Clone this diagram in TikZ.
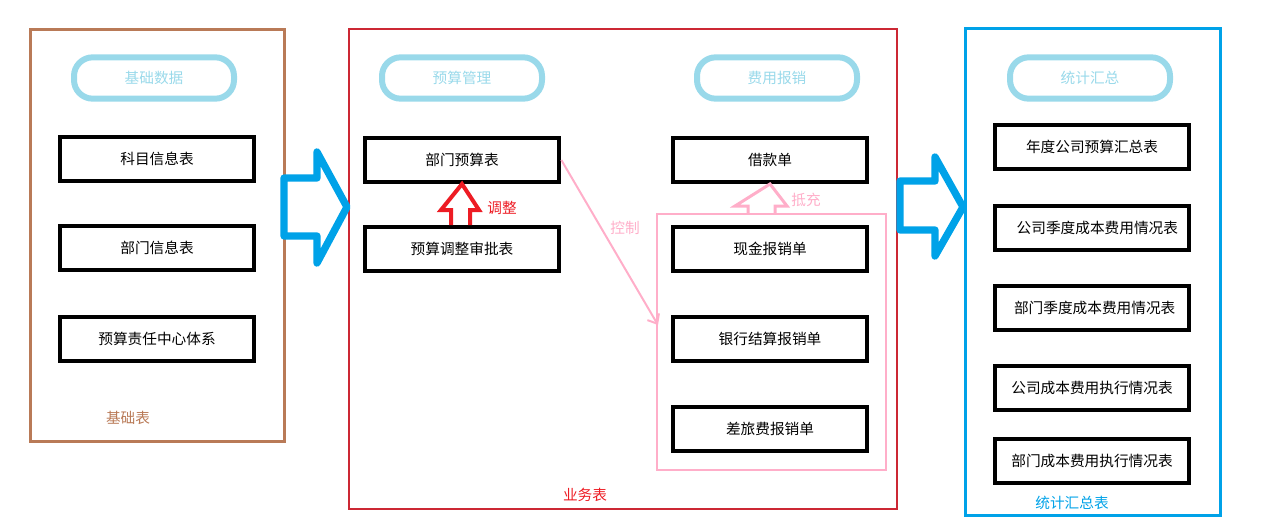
\documentclass[tikz,border=0pt]{standalone}
\usepackage{fontspec}
\newfontfamily\cjk{Noto Sans CJK SC}
\usetikzlibrary{arrows.meta}
\definecolor{paintbrown}{RGB}{185,122,87}
\definecolor{paintred}{RGB}{237,28,36}
\definecolor{boxred}{RGB}{204,40,52}
\definecolor{paintblue}{RGB}{0,162,232}
\definecolor{pillblue}{RGB}{153,217,234}
\definecolor{paintpink}{RGB}{255,174,201}

\tikzset{every picture/.style={line width=0.75pt},
  tbl/.style={draw, line width=3pt, minimum width=146pt, minimum height=33pt, inner sep=0pt, font=\cjk\fontsize{11}{13}\selectfont},
  pill/.style={draw=pillblue, line width=4.5pt, rounded corners=14pt, minimum width=120pt, minimum height=31pt, inner sep=0pt, text=pillblue, font=\cjk\fontsize{11}{13}\selectfont},
  lbl/.style={font=\cjk\fontsize{11}{13}\selectfont},
  fatarrow/.style={draw=paintblue, line width=5.5pt, line join=round}}

\begin{document}
\begin{tikzpicture}[x=0.75pt,y=0.75pt,yscale=-1,xscale=1]
\useasboundingbox (0,0) rectangle (1273,521);

%Shape: Rectangle [id:base]
\draw [draw=paintbrown, line width=2.25pt] (30,29) rectangle (284,441);
%Shape: Rectangle [id:business]
\draw [draw=boxred, line width=1.8pt] (349,29) rectangle (897,509);
%Shape: Rectangle [id:reimb]
\draw [draw=paintpink, line width=2pt] (657,214) rectangle (886,470);
%Shape: Rectangle [id:stats]
\draw [draw=paintblue, line width=2.25pt] (965,28) rectangle (1220,515);

%Shape: Right Arrow [id:toBusiness]
\draw [fatarrow] (284,178) -- (317,178) -- (317,152) -- (347,207) -- (317,263) -- (317,236) -- (284,236) -- cycle;
%Shape: Right Arrow [id:toStats]
\draw [fatarrow] (900,181) -- (935,181) -- (935,157) -- (963,207) -- (935,256) -- (935,230) -- (900,230) -- cycle;

% Text Node
\draw (154,78) node [pill] (basehead) {基础数据};
% Text Node
\draw (462,78) node [pill] (budhead) {预算管理};
% Text Node
\draw (777,78) node [pill] (costhead) {费用报销};
% Text Node
\draw (1090,78) node [pill] (statshead) {统计汇总};

% Text Node
\draw (157,159) node [tbl] (subject) {科目信息表};
% Text Node
\draw (157,248) node [tbl] (dept) {部门信息表};
% Text Node
\draw (157,339) node [tbl] (center) {预算责任中心体系};

% Text Node
\draw (462,160) node [tbl] (deptbud) {部门预算表};
% Text Node
\draw (462,249) node [tbl] (adjust) {预算调整审批表};

% Text Node
\draw (770,160) node [tbl] (loan) {借款单};
% Text Node
\draw (770,249) node [tbl] (cash) {现金报销单};
% Text Node
\draw (770,339) node [tbl] (bank) {银行结算报销单};
% Text Node
\draw (770,429) node [tbl] (travel) {差旅费报销单};

% Text Node
\draw (1092,147) node [tbl] (yearsum) {年度公司预算汇总表};
% Text Node
\draw (1092,228) node [tbl] (compq) {\hspace{8pt}公司季度成本费用情况表};
% Text Node
\draw (1092,308) node [tbl] (deptq) {\hspace{4pt}部门季度成本费用情况表};
% Text Node
\draw (1092,388) node [tbl] (compexec) {公司成本费用执行情况表};
% Text Node
\draw (1092,461) node [tbl] (deptexec) {部门成本费用执行情况表};

%Shape: Up Arrow [id:adjArrow]
\draw [draw=paintred, line width=3pt, line join=miter] (adjust.north -| 451,0) -- (451,210) -- (441,210) -- (deptbud.south) -- (479,210) -- (470,210) -- (adjust.north -| 470,0);
%Shape: Up Arrow [id:offArrow]
\draw [draw=paintpink, line width=2.25pt, line join=miter] (748,214) -- (748,206) -- (735,206) -- (loan.south) -- (787,206) -- (775,206) -- (775,214);

%Straight Lines [id:ctrl]
\coordinate (ctrlend) at (658,325);
\draw [draw=paintpink, line width=1.5pt, -{Straight Barb[length=6pt,width=10pt]}] (deptbud.east) -- (ctrlend);

% Text Node
\draw (502,208) node [lbl, text=paintred] {调整};
% Text Node
\draw (806,200) node [lbl, text=paintpink] {抵充};
% Text Node
\draw (625,228) node [lbl, text=paintpink] {控制};
% Text Node
\draw (128,418) node [lbl, text=paintbrown] {基础表};
% Text Node
\draw (585,495) node [lbl, text=paintred] {业务表};
% Text Node
\draw (1072,503) node [lbl, text=paintblue] {统计汇总表};

\end{tikzpicture}
\end{document}
